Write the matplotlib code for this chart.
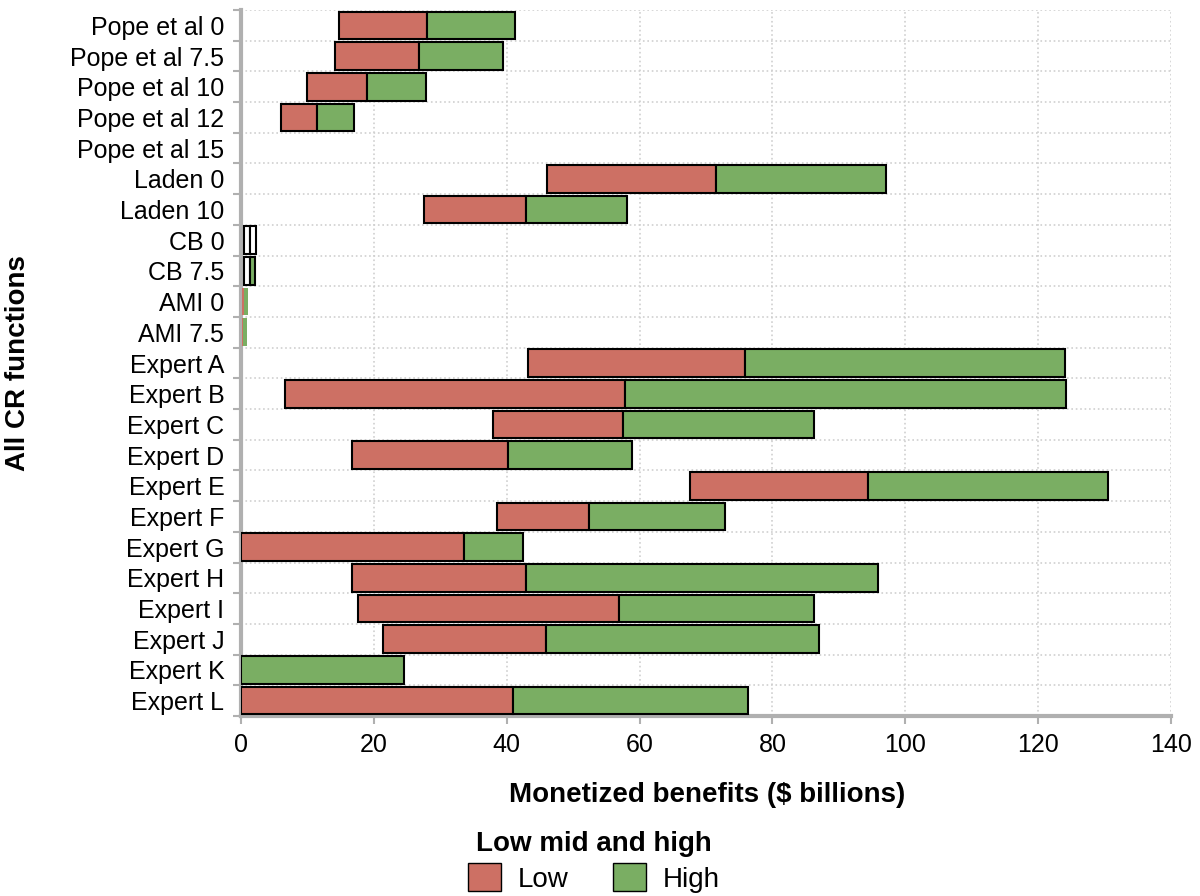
import matplotlib.pyplot as plt
import numpy as np

plt.rcParams['font.family'] = ['Liberation Sans', 'DejaVu Sans']

labels = ["Pope et al 0", "Pope et al 7.5", "Pope et al 10", "Pope et al 12", "Pope et al 15",
          "Laden 0", "Laden 10", "CB 0", "CB 7.5", "AMI 0", "AMI 7.5",
          "Expert A", "Expert B", "Expert C", "Expert D", "Expert E", "Expert F",
          "Expert G", "Expert H", "Expert I", "Expert J", "Expert K", "Expert L"]
low = [14.8, 14.1, 9.9, 6.0, 0, 46.1, 27.5, 0.45, 0.5, 0.2, 0.1,
       43.2, 6.6, 37.9, 16.7, 67.6, 38.5, 0.0, 16.7, 17.6, 21.4, 0.0, 0.0]
mid = [28.0, 26.8, 18.9, 11.5, 0, 71.5, 42.9, 1.35, 1.35, 0.5, 0.3,
       75.9, 57.8, 57.5, 40.2, 94.4, 52.4, 33.6, 42.9, 56.9, 45.9, 0.0, 40.9]
high = [41.3, 39.5, 27.8, 17.0, 0, 97.1, 58.1, 2.2, 2.1, 1.1, 0.85,
        124.0, 124.2, 86.3, 58.9, 130.5, 72.9, 42.4, 95.9, 86.3, 87.0, 24.6, 76.3]

red = "#cd7064"
green = "#7aae63"

n = len(labels)
low = np.array(low); mid = np.array(mid); high = np.array(high)

low_cols = [red] * n
high_cols = [green] * n
low_cols[7] = "white"; low_cols[8] = "white"; high_cols[7] = "white"
low_edges = ["black" if w > 0 else "none" for w in mid - low]
high_edges = ["black" if w > 0 else "none" for w in high - mid]
for i in (9, 10):
    low_edges[i] = "none"; high_edges[i] = "none"

fig = plt.figure(figsize=(12, 8.96), dpi=100)
ax = fig.add_axes([241/1200, 1 - 716/896, (1171-241)/1200, (716-10)/896])

y = np.arange(n)
ax.barh(y, mid - low, left=low, height=0.9, color=low_cols, edgecolor=low_edges, linewidth=1.5, zorder=3)
ax.barh(y, high - mid, left=mid, height=0.9, color=high_cols, edgecolor=high_edges, linewidth=1.5, zorder=3)

ax.set_ylim(n - 0.5, -0.5)
ax.set_xlim(0, 140)
ax.set_yticks(y)
ax.set_yticklabels(labels, fontsize=18)
ax.tick_params(axis='y', length=0, pad=12)
ax.set_yticks(np.arange(-0.5, n), minor=True)
ax.tick_params(axis='y', which='minor', length=6, color='#b0b0b0', width=1.5)
ax.set_xticks(np.arange(0, 141, 20))
ax.tick_params(axis='x', labelsize=18, length=6, color='#b0b0b0', width=1.5, pad=6)
ax.grid(True, axis='x', which='major', color='#d0d0d0', linestyle=':', linewidth=1.2, zorder=0)
ax.grid(True, axis='y', which='minor', color='#d0d0d0', linestyle=':', linewidth=1.2, zorder=0)

for s in ['top', 'right']:
    ax.spines[s].set_visible(False)
for s in ['left', 'bottom']:
    ax.spines[s].set_color('#b0b0b0')
    ax.spines[s].set_linewidth(3)

fig.text(707/1200, 1 - 795/896, "Monetized benefits ($ billions)", fontsize=20, fontweight='bold',
         ha='center', va='center')
fig.text(18/1200, 1 - 363/896, "All CR functions", fontsize=20, fontweight='bold',
         ha='center', va='center', rotation=90)

handles = [plt.Rectangle((0, 0), 1, 1, facecolor=red, edgecolor='black'),
           plt.Rectangle((0, 0), 1, 1, facecolor=green, edgecolor='black')]
leg = fig.legend(handles, ["Low", "High"], loc='center', bbox_to_anchor=(594/1200, 1 - 862/896),
                 ncol=2, frameon=False, fontsize=20, title="Low mid and high",
                 title_fontproperties={'weight': 'bold', 'size': 20},
                 handlelength=1.2, handleheight=1.2, columnspacing=1.6, handletextpad=0.6,
                 borderpad=0.1, labelspacing=0.2)

fig.savefig("out.png", dpi=100)
